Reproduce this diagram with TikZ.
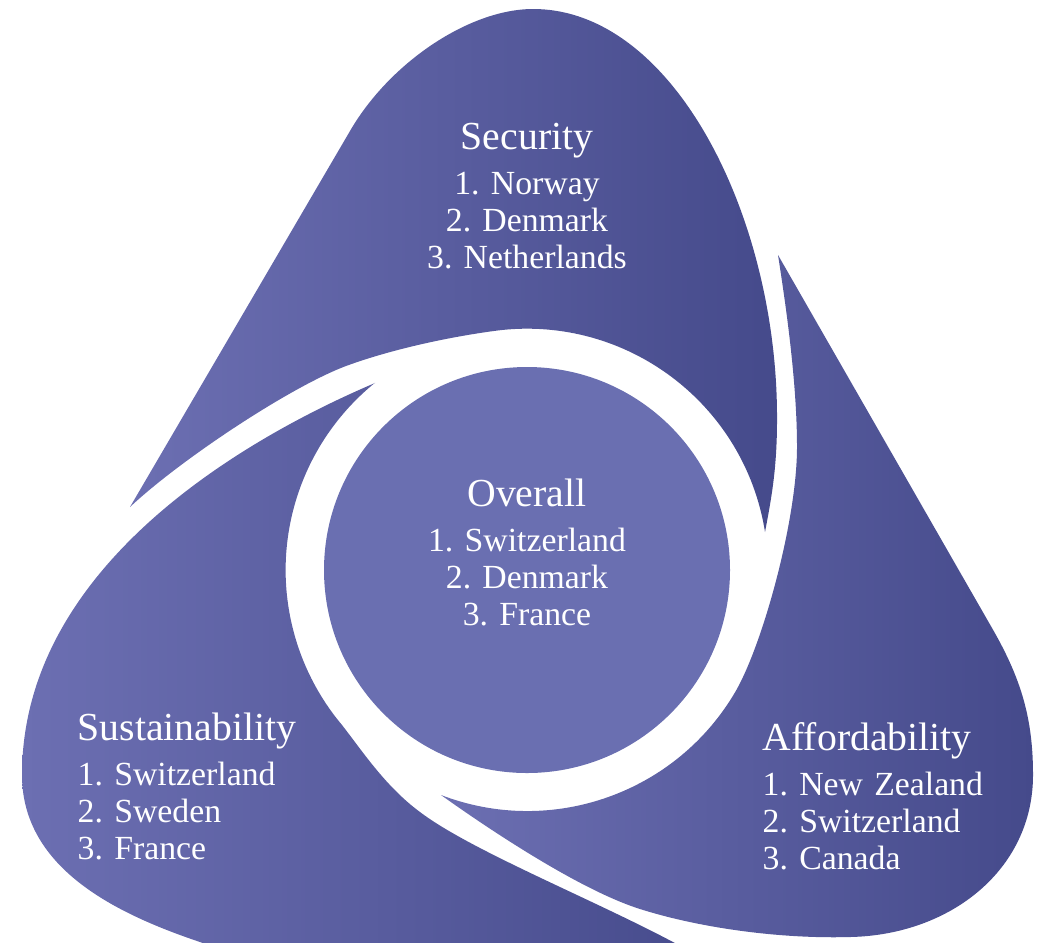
\documentclass[tikz,border=0pt]{standalone}
\usepackage{fontspec}
\setmainfont{Liberation Serif}
\usepackage{tikz}
\definecolor{seglight}{RGB}{108,111,178}
\definecolor{segdark}{RGB}{69,74,139}
\definecolor{hubfill}{RGB}{106,111,177}
\newcommand\segtitle{\fontsize{11.3}{12.8}\selectfont}
\frenchspacing

\begin{document}
\begin{tikzpicture}[x=0.01cm,y=-0.01cm]
	\tikzstyle{segment}=[left color=seglight,right color=segdark]
	\tikzstyle{ranking}=[text=white,inner sep=0pt,font=\fontsize{9.6}{10.6}\selectfont]
	\path[use as bounding box] (0,0) rectangle (1037,942);
	\clip (0,0) rectangle (1037,942);
	% Security
	\shade[segment] (130,507) -- (350,131)
		.. controls (390,62) and (470,9) .. (533,9)
		.. controls (675,9) and (778,220) .. (777,420)
		.. controls (777,470) and (771,500) .. (765,532)
		arc[start angle=-9,end angle=-97,radius=241]
		.. controls (455,336) and (395,348) .. (346,366)
		.. controls (290,387) and (180,460) .. (130,507) -- cycle;
	% Sustainability
	\shade[segment] (375,383)
		.. controls (227,446) and (22,575) .. (22,775)
		.. controls (22,870) and (120,915) .. (200,942)
		-- (290,975) -- (733,975) -- (673,942)
		.. controls (590,898) and (470,850) .. (420,812)
		.. controls (386,787) and (363,752) .. (342,725)
		arc[start angle=140,end angle=231,radius=241] -- cycle;
	% Affordability
	\shade[segment] (778,255) -- (992,628)
		.. controls (1022,680) and (1033,720) .. (1033,775)
		.. controls (1033,870) and (950,935) .. (850,937)
		.. controls (780,939) and (700,928) .. (640,909)
		.. controls (580,890) and (490,830) .. (441,795)
		arc[start angle=111,end angle=30,radius=241]
		.. controls (763,643) and (797,520) .. (797,447)
		.. controls (797,380) and (785,300) .. (778,255) -- cycle;
	\fill[hubfill] (527,570) circle (203);
	\node[ranking,text width=3cm,align=center,anchor=base] (security) at (527,149)
		{{\segtitle Security}\\[2.2pt]1. Norway\\2. Denmark\\3. Netherlands};
	\node[ranking,text width=3cm,align=center,anchor=base] (overall) at (527,506)
		{{\segtitle Overall}\\[2.2pt]1. Switzerland\\2. Denmark\\3. France};
	\node[ranking,text width=2.6cm,align=left,anchor=base west] (sustainability) at (77,740)
		{{\segtitle Sustainability}\\[2.2pt]1. Switzerland\\2. Sweden\\3. France};
	\node[ranking,text width=2.6cm,align=left,anchor=base west] (affordability) at (762,750)
		{{\segtitle Affordability}\\[2.2pt]1. New Zealand\\2. Switzerland\\3. Canada};
\end{tikzpicture}
\end{document}
